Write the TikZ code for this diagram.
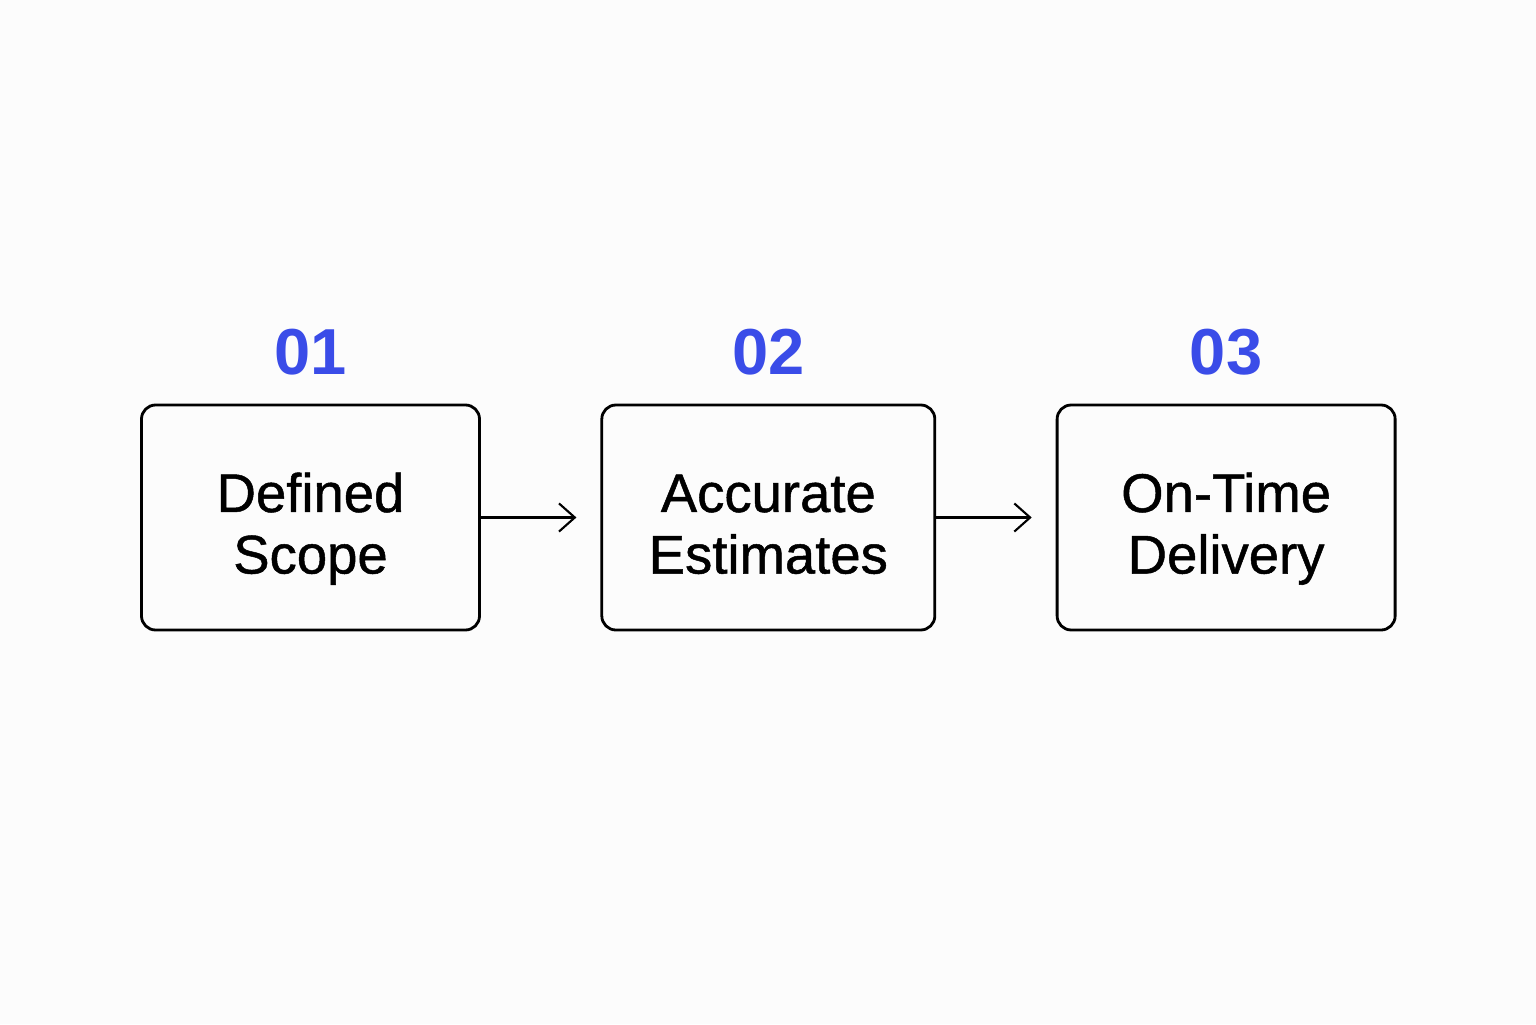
\documentclass[tikz,border=0pt]{standalone}
\usepackage{fontspec}
\setmainfont{Liberation Sans}
\newfontfamily\boxfont{Liberation Sans}[FakeBold=0.9]
\usetikzlibrary{arrows.meta,positioning}
\definecolor{stepblue}{RGB}{58,76,232}
\definecolor{paper}{RGB}{252,252,252}

\begin{document}
\begin{tikzpicture}[auto,
  box/.style={rectangle, draw=black, line width=1.6pt, rounded corners=8pt,
    minimum width=6.76cm, minimum height=4.5cm, align=center,
    text height=2.24cm, text depth=0pt,
    font=\boxfont\fontsize{31}{35}\selectfont},
  num/.style={text=stepblue, inner sep=0pt, font=\fontsize{37}{40}\selectfont\bfseries},
  line/.style={draw, line width=1.2pt, -{Straight Barb[length=9pt,width=16pt,line width=1.2pt]},
    shorten >=0.48cm}]

  \fill[paper] (0,0) rectangle (30.72,20.48);
  \useasboundingbox (0,0) rectangle (30.72,20.48);

  \node [box] (scope) at (6.21,10.13) {Defined\\Scope};
  \node [box, minimum width=6.66cm, right=2.39cm of scope] (estim) {Accurate\\Estimates};
  \node [box, right=2.39cm of estim] (deliv) {On-Time\\Delivery};

  \node [num, above=0.56cm of scope] (n1) {01};
  \node [num, above=0.56cm of estim] (n2) {02};
  \node [num, above=0.56cm of deliv] (n3) {03};

  \draw [line] (scope.east) -- (estim.west);
  \draw [line] (estim.east) -- (deliv.west);
\end{tikzpicture}
\end{document}
